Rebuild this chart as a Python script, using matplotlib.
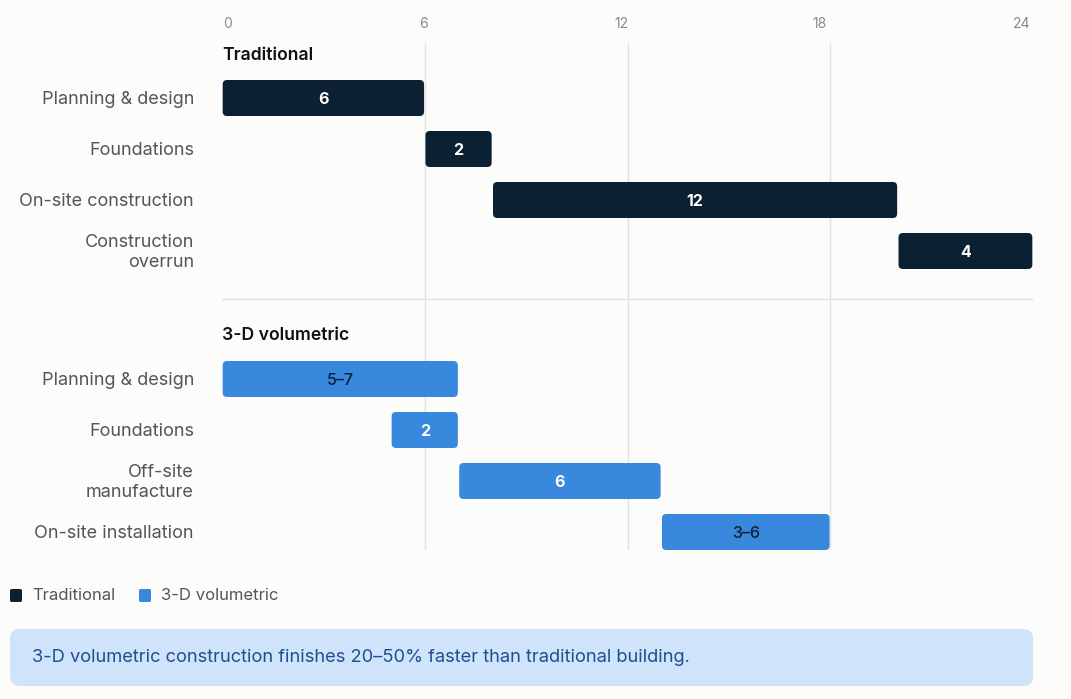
import matplotlib
matplotlib.use("Agg")
import matplotlib.pyplot as plt
from matplotlib.patches import FancyBboxPatch

# ---- data ----
groups = ["Traditional", "3-D volumetric"]
trad_tasks = ["Planning & design", "Foundations", "On-site construction", "Construction\noverrun"]
trad_start = [0, 6, 8, 20]
trad_dur = [6, 2, 12, 4]
trad_labels = ["6", "2", "12", "4"]

vol_tasks = ["Planning & design", "Foundations", "Off-site\nmanufacture", "On-site installation"]
vol_start = [0, 5, 7, 13]
vol_dur = [7, 2, 6, 5]
vol_labels = ["5–7", "2", "6", "3–6"]
vol_label_dark = [True, False, False, True]

x_ticks = [0, 6, 12, 18, 24]
callout = "3-D volumetric construction finishes 20–50% faster than traditional building."

# ---- style ----
BG = "#fcfcfb"
NAVY = "#0b2033"
BLUE = "#3889dd"
GRID = "#e2e2e2"
LABEL = "#555555"
FONT = ["Inter", "DejaVu Sans"]
plt.rcParams["font.family"] = FONT

W, H = 1071, 699
fig = plt.figure(figsize=(W / 100, H / 100), dpi=100, facecolor=BG)

left_px, right_px, top_px, bot_px = 222, 1033, 43, 550
ax = fig.add_axes([left_px / W, 1 - bot_px / H, (right_px - left_px) / W, (bot_px - top_px) / H])
ax.set_facecolor(BG)
for s in ax.spines.values():
    s.set_visible(False)

row_px = 51.0
ylim_top = (top_px - 98) / row_px
ylim_bot = (bot_px - 98) / row_px
ax.set_xlim(0, 24)
ax.set_ylim(ylim_bot, ylim_top)
ax.set_xticks([])
ax.set_yticks([])

px_per_x = (right_px - left_px) / 24.0
aspect = (1 / row_px) / (1 / px_per_x)

for t in x_ticks[1:-1]:
    ax.axvline(t, color=GRID, lw=1, zorder=0)

# tick labels (space-between layout on top)
tick_frac = [0.007, 0.249, 0.492, 0.737, 0.986]
for t, f in zip(x_ticks, tick_frac):
    ax.text(f, 1 + (top_px - 24) / (bot_px - top_px), str(t), transform=ax.transAxes,
            ha="center", va="center", fontsize=10, color="#8a8a8a")

bar_h = 36 / row_px
group_offset = (379 - 98) / row_px
header_offset = -(98 - 55) / row_px


def draw_group(gi, tasks, starts, durs, labels, color, dark_flags):
    base = gi * group_offset
    ax.text(0, base + header_offset, groups[gi], ha="left", va="center",
            fontsize=12.7, fontweight="semibold", color="#111111")
    for i, (task, s, d, lab) in enumerate(zip(tasks, starts, durs, labels)):
        y = base + i
        patch = FancyBboxPatch((s + 0.02, y - bar_h / 2), d - 0.04, bar_h,
                               boxstyle="round,pad=0,rounding_size=0.13",
                               mutation_aspect=aspect, fc=color, ec="none", zorder=2)
        ax.add_patch(patch)
        dark = dark_flags[i]
        ax.text(s + d / 2, y + 0.02, lab, ha="center", va="center", fontsize=11.5,
                fontweight="medium" if dark else "bold",
                color=NAVY if dark else "white", zorder=3)
        ax.text(-0.83, y + 0.03, task, ha="right", va="center", fontsize=13,
                color=LABEL, linespacing=1.28, clip_on=False)


draw_group(0, trad_tasks, trad_start, trad_dur, trad_labels, NAVY, [False] * 4)
draw_group(1, vol_tasks, vol_start, vol_dur, vol_labels, BLUE, vol_label_dark)

sep_y = (299 - 98) / row_px
ax.plot([0, 24], [sep_y, sep_y], color=GRID, lw=1, zorder=1)

# ---- legend ----
def fx(px):
    return px / W


def fy(py):
    return 1 - py / H


for x0, col, name in [(10, NAVY, groups[0]), (139, BLUE, groups[1])]:
    fig.patches.append(FancyBboxPatch((fx(x0), fy(602)), fx(12), 13 / H,
                                      boxstyle="round,pad=0,rounding_size=0.002",
                                      transform=fig.transFigure, fc=col, ec="none"))
    fig.text(fx(x0 + 22), fy(596), name, ha="left", va="center", fontsize=12, color=LABEL)

# ---- callout ----
fig.patches.append(FancyBboxPatch((fx(10), fy(686)), fx(1023), 57 / H,
                                  boxstyle="round,pad=0,rounding_size=0.009",
                                  mutation_aspect=W / H,
                                  transform=fig.transFigure, fc="#cfe3fb", ec="none"))
fig.text(fx(32), fy(658), callout, ha="left", va="center", fontsize=13.2, color="#1f4f8f")

fig.savefig("out.png", dpi=100, facecolor=BG)
